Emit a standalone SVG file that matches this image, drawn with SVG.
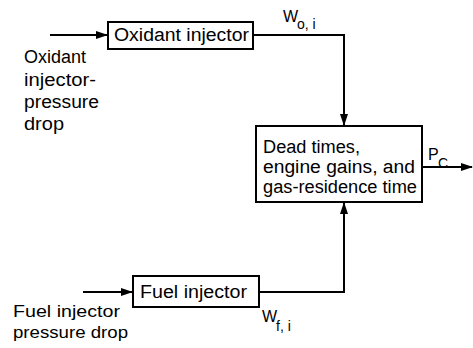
<svg xmlns="http://www.w3.org/2000/svg" width="473" height="348" viewBox="0 0 473 348">
<style>
text{font-family:"Liberation Sans",Arial,sans-serif;font-size:18px;fill:#000}
.sub{font-size:14px}
.sym{font-size:16px}
.sm{font-size:17px}
.box{fill:#fff;stroke:#000;stroke-width:2}
.ln{fill:none;stroke:#000;stroke-width:2}
</style>
<defs>
<marker id="ah" markerWidth="12" markerHeight="8" refX="11" refY="4" orient="auto" markerUnits="userSpaceOnUse">
<path d="M0,0 L12,4 L0,8 Z" fill="#000"/>
</marker>
</defs>
<rect width="473" height="348" fill="#fff"/>
<g id="connectors">
<path class="ln" d="M50,35 H107" marker-end="url(#ah)"/>
<path class="ln" d="M253,35 H344 V125" marker-end="url(#ah)"/>
<path class="ln" d="M83,292 H132" marker-end="url(#ah)"/>
<path class="ln" d="M259,292 H344 V203" marker-end="url(#ah)"/>
<path class="ln" d="M422,167 H472" marker-end="url(#ah)"/>
</g>
<g id="oxidant-injector">
<rect class="box" x="108" y="22" width="145" height="27"/>
<text x="114" y="41" textLength="135" lengthAdjust="spacingAndGlyphs">Oxidant injector</text>
</g>
<g id="fuel-injector">
<rect class="box" x="133" y="276" width="126" height="31"/>
<text x="140" y="298" textLength="107" lengthAdjust="spacingAndGlyphs">Fuel injector</text>
</g>
<g id="dead-times">
<rect class="box" x="256" y="126" width="166" height="76"/>
<text x="263" y="153" textLength="97" lengthAdjust="spacingAndGlyphs">Dead times,</text>
<text x="263" y="173" textLength="152" lengthAdjust="spacingAndGlyphs">engine gains,  and</text>
<text x="263" y="193" textLength="154" lengthAdjust="spacingAndGlyphs">gas-residence time</text>
</g>
<g id="labels">
<text x="24" y="63" textLength="62" lengthAdjust="spacingAndGlyphs">Oxidant</text>
<text x="24" y="86" textLength="72" lengthAdjust="spacingAndGlyphs">injector-</text>
<text x="24" y="108" textLength="75" lengthAdjust="spacingAndGlyphs">pressure</text>
<text x="24" y="130" textLength="40" lengthAdjust="spacingAndGlyphs">drop</text>
<text class="sm" x="13" y="317" textLength="107" lengthAdjust="spacingAndGlyphs">Fuel injector</text>
<text class="sm" x="13" y="338" textLength="115" lengthAdjust="spacingAndGlyphs">pressure drop</text>
<text class="sym" x="283" y="22">W</text><text class="sub" x="297" y="29">o, i</text>
<text class="sym" x="262" y="322">W</text><text class="sub" x="276" y="331">f, i</text>
<text class="sym" x="428" y="160">P</text><text class="sub" x="438" y="168">C</text>
</g>
</svg>
